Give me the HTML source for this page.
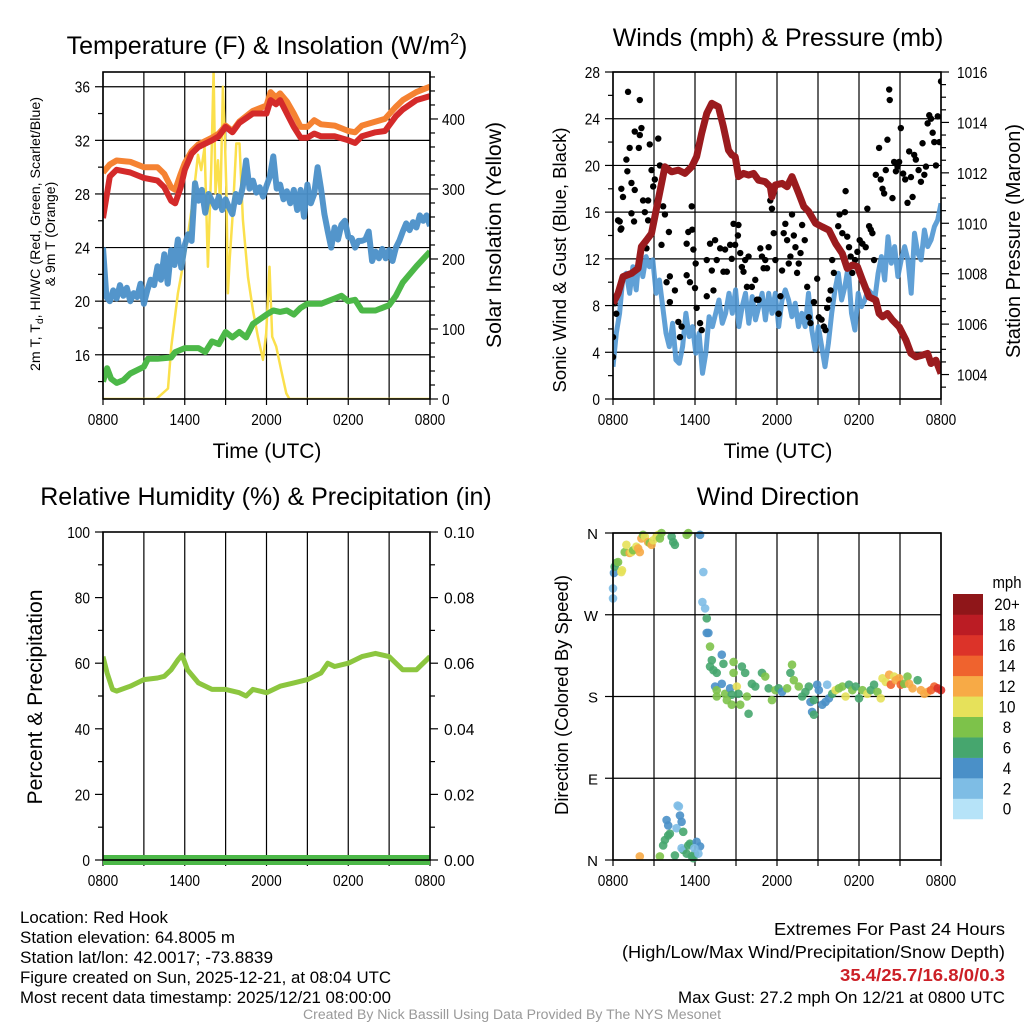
<!DOCTYPE html>
<html><head><meta charset="utf-8"><style>
html,body{margin:0;padding:0;background:#fff;}
svg{display:block;font-family:"Liberation Sans",sans-serif;}
</style></head><body>
<svg id="c" width="1024" height="1024" viewBox="0 0 1024 1024" xmlns="http://www.w3.org/2000/svg"></svg>
<script>
// ---------- Temperature panel data ----------
const redTimes=[0,0.5,1,2,3,4,4.5,5,5.3,5.7,6,6.5,7,8,8.5,9,9.5,10,11,12,12.3,12.7,13,13.5,14,14.5,15,15.5,16,17,18,18.5,19,20,20.7,21.5,22,23,24];
const redTemp=[26.2,29.3,29.8,29.6,29.2,29.0,28.5,27.5,27.3,28.5,29.8,31,31.5,32,32.3,33,32.6,33.3,34,34,35,34.7,35,34,33,32.2,32.2,32.5,32.3,32.3,32,31.8,32.3,32.6,32.7,33.8,34.3,35,35.3];
const orangeTemp=[29.6,30.2,30.5,30.4,30,30,29.5,28.5,28.3,29.5,30.3,31.2,31.7,32.2,32.5,33.1,32.7,33.4,34.2,34.6,35.6,35.2,35.5,34.9,34,33,33,33.5,33.2,33.1,32.7,32.6,33.1,33.4,33.6,34.5,35,35.6,36];
const blueTemp=[24,20.3,20.0,20.8,20.2,21.2,20.4,21.0,20.0,20.6,20.3,21.3,19.8,20.8,21.6,21.2,22.6,21.6,23.5,21.3,23.8,22.7,24.6,22.5,24.2,25.0,24.5,28.8,27.5,28.3,26.6,28.0,27.5,27.0,27.8,26.8,27.6,27.0,26.5,28,27.4,28.5,30.5,28.4,29,28.1,28.5,27.8,28.6,29.3,30.8,28.4,28.7,27.6,28.2,27.3,28.3,26.8,28.3,26.3,28.7,27.3,28.0,30.0,28.4,26.5,25.2,24.0,25.5,24.6,25.7,26.0,24.8,24.7,24.0,24.5,24.5,24.6,25.2,23.0,23.7,23.2,23.9,23.2,23.8,23.0,24.0,24.5,25.2,25.8,25.3,25.9,25.5,26.4,26.0,26.4,25.6];
const greenTimes=[0,0.3,0.6,1,1.5,2,3,3.3,4,5,5.3,6,7,7.5,8,8.5,9,9.5,10,10.5,11,12,12.5,13,13.5,14,14.5,15,16,17,17.5,18,18.5,19,20,21,21.5,22,23,24];
const greenTemp=[14,15,14.2,13.9,14.1,14.6,15.1,15.7,15.7,15.8,16.2,16.5,16.5,16.2,17,16.8,17.7,17.3,17.7,17.3,18.3,19,19.3,19.2,19.3,19.0,19.5,19.8,19.8,20.2,20.4,20,20.1,19.3,19.3,19.7,20.4,21.4,22.6,23.7];
const solarTimes=[0,3.91,4.77,5.01,5.50,6.11,6.60,6.97,7.21,7.46,7.70,7.95,8.12,8.26,8.44,8.61,8.80,8.92,9.05,9.17,9.29,9.54,9.78,10.02,10.27,10.64,11.0,11.37,11.74,11.98,12.22,12.42,12.71,13.08,13.45,13.69,24];
const solarVals=[0,0,15,75,151,217,284,349,327,360,189,332,470,294,341,274,446,389,303,151,198,270,365,365,256,174,127,89,56,94,189,89,75,41,8,0,0];
const tempTicks=[16,20,24,28,32,36];
const solarTicks=[0,100,200,300,400];
const timeLabels=["0800","1400","2000","0200","0800"];
// ---------- Wind panel data ----------
const windSpeed=[2.77,5.63,7.34,10.48,10.76,9.05,11.33,9.34,12.48,10.48,12.19,11.33,11.91,9.05,10.19,7.91,5.63,4.49,6.48,3.35,3.06,4.49,7.34,5.34,6.20,3.92,5.63,2.20,3.92,7.05,6.20,7.34,8.48,6.48,7.34,9.05,7.34,9.34,6.20,7.91,9.05,6.48,8.77,6.77,7.91,9.05,6.77,9.05,7.34,9.05,6.20,8.48,9.34,8.48,7.05,8.20,6.20,7.34,6.20,9.05,5.91,4.20,6.20,4.49,2.77,4.77,7.34,9.34,10.76,8.48,9.62,11.33,7.34,5.91,9.05,7.91,8.48,9.34,9.05,8.48,10.76,12.19,10.19,13.90,11.62,13.05,10.48,11.91,13.05,11.91,9.05,14.19,12.48,11.91,14.47,13.05,13.62,14.76,15.33,16.76];
const gustTimes=[0,0,0.12,0.24,0.37,0.56,0.49,0.61,0.61,0.73,0.98,1.05,1.10,1.22,1.35,1.35,1.54,1.59,1.59,1.89,1.96,1.96,2.08,2.20,2.33,2.45,2.57,2.57,2.69,2.82,2.94,3.06,3.31,3.43,3.55,3.67,3.80,3.92,4.09,4.16,4.16,4.53,4.78,4.90,5.02,5.39,5.39,5.51,5.63,5.76,5.80,5.88,6.0,6.05,6.12,6.37,6.49,6.86,6.86,7.10,7.23,7.35,7.47,7.59,7.84,8.08,8.20,8.33,8.57,8.69,8.82,8.94,9.14,9.18,9.31,9.43,9.55,9.67,9.80,9.92,10.16,10.41,10.53,10.65,10.78,10.90,11.02,11.14,11.27,11.39,11.51,11.63,11.76,11.88,12.12,12.25,12.37,12.49,12.61,12.74,12.86,12.98,13.10,13.23,13.35,13.47,13.59,13.72,13.84,14.03,14.21,14.33,14.45,14.70,14.94,15.06,15.26,15.43,15.55,15.67,15.80,15.92,16.04,16.16,16.34,16.48,16.58,16.78,16.97,17.02,17.14,17.27,17.39,17.51,17.71,17.88,18.05,18.25,18.49,18.61,18.74,18.86,18.98,19.10,19.23,19.47,19.59,19.72,19.84,19.96,20.08,20.21,20.25,20.45,20.57,20.70,20.82,20.94,21.06,21.23,21.38,21.55,21.67,21.80,21.92,22.04,22.16,22.36,22.53,22.65,22.78,22.90,23.02,23.14,23.27,23.39,23.51,23.63,23.76,23.88,24.0];
const gustVals=[3.6,5.3,8.2,7.3,15.3,14.5,15.2,18.0,14.6,17.3,20.5,19.5,26.3,21.5,18.5,15.9,15.2,17.9,22.9,21.5,25.6,22.6,23.2,17.0,16.0,12.9,17.0,15.3,21.8,19.6,18.2,18.8,22.3,20.0,13.2,16.5,15.8,10.0,14.3,10.5,8.3,9.3,6.6,5.3,6.2,13.3,10.6,14.3,10.0,16.5,14.5,12.8,9.5,11.6,7.8,6.5,5.9,11.9,8.8,13.3,11.0,9.3,13.6,11.9,12.9,10.9,12.8,10.9,13.2,12.0,15.0,13.2,14.0,14.9,12.5,11.3,10.9,11.9,9.6,12.2,9.6,10.2,8.5,8.5,12.9,12.2,11.2,11.9,11.2,13.0,17.0,16.3,14.2,11.9,7.3,8.8,11.0,14.2,15.0,13.6,11.6,12.2,15.8,14.0,13.0,10.8,11.6,12.5,14.9,13.6,9.6,7.0,6.5,8.3,10.3,7.0,6.8,6.2,5.9,7.8,8.5,9.3,11.9,10.8,13.2,14.8,15.8,14.2,16.0,17.8,13.9,13.0,12.2,10.8,11.9,12.6,13.6,13.3,13.0,16.3,14.8,14.5,14.2,11.9,19.2,21.5,18.8,18.0,17.6,19.6,22.2,26.5,25.6,17.2,20.3,19.5,19.9,20.3,23.2,19.3,18.8,16.8,21.2,19.0,17.3,20.9,20.5,19.6,18.6,21.9,19.2,19.9,23.6,24.3,24.0,22.8,22.0,20.0,24.2,22.0,27.2];
const presTimes=[0,0.37,0.73,1.35,1.84,2.08,2.45,2.82,3.31,3.80,4.29,4.78,5.27,5.76,6.12,6.49,6.86,7.23,7.71,8.08,8.45,8.69,8.94,9.18,9.55,9.92,10.29,10.65,11.14,11.51,11.63,11.88,12.37,12.74,13.10,13.59,13.96,14.33,14.82,15.31,15.80,16.29,16.78,17.14,17.51,17.88,18.25,18.74,19.23,19.47,19.72,20.08,20.45,20.94,21.43,21.80,22.16,22.65,23.02,23.27,23.63,24.0];
const presVals=[1006.82,1007.22,1007.88,1008.01,1008.21,1009.07,1009.33,1009.60,1010.92,1012.24,1012.04,1012.11,1011.98,1012.24,1012.64,1013.57,1014.36,1014.76,1014.62,1013.83,1012.90,1012.71,1012.64,1011.85,1011.98,1011.91,1011.98,1011.71,1011.65,1011.45,1011.05,1011.52,1011.58,1011.45,1011.85,1011.19,1010.66,1010.46,1010.0,1009.86,1009.73,1009.20,1008.80,1008.21,1008.34,1008.28,1007.75,1007.08,1006.95,1006.42,1006.29,1006.42,1006.16,1005.89,1005.37,1004.84,1004.70,1004.77,1004.84,1004.44,1004.57,1004.04];
const windTicks=[0,4,8,12,16,20,24,28];
const presTicks=[1004,1006,1008,1010,1012,1014,1016];
// ---------- RH panel data ----------
const rhTimes=[0,0.3,0.7,1,2,3,4,4.5,5,5.5,5.8,6.2,7,8,9,10,10.5,11,12,13,14,15,15.5,16,16.5,17,18,19,20,21,21.5,22,23,24];
const rhVals=[62,57,52,51.5,53,55,55.5,56,58,61,62.5,58,54,52,52,51,50,52,51,53,54,55,56,57,60,59,60,62,63,62,60,58,58,62];
const precipTimes=[0,24];
const precipVals=[0,0];
const rhTicks=[0,20,40,60,80,100];
const precipTicks=["0.00","0.02","0.04","0.06","0.08","0.10"];
// ---------- Wind direction data ----------
const dirTimes=[0,0,0.07,0.12,0.24,0.37,0.61,0.66,0.86,0.98,1.22,1.35,1.47,1.71,1.84,1.96,2.08,2.20,2.33,2.57,2.69,2.82,2.94,3.18,3.31,3.43,3.55,4.29,4.41,4.53,5.39,5.51,6.37,6.61,6.54,6.74,6.86,6.86,6.98,7.10,7.23,7.10,7.35,7.59,7.96,8.08,8.82,8.82,9.43,9.67,7.47,7.59,7.96,8.20,8.57,8.69,9.06,9.18,7.59,8.33,8.69,9.31,9.92,9.80,10.16,10.41,10.90,11.14,11.39,11.63,11.88,12.12,12.37,12.74,12.98,13.10,13.23,13.59,13.84,14.08,14.33,14.45,14.70,14.57,14.70,14.94,15.06,15.31,15.55,15.67,15.80,16.04,16.29,16.53,16.78,17.02,17.27,17.51,17.76,18.00,18.25,18.61,18.86,19.10,19.35,19.59,19.72,19.96,20.21,20.33,20.57,20.70,20.94,21.06,21.31,21.55,21.67,21.92,22.29,22.53,22.78,23.02,23.27,23.51,23.76,24.0,1.96,3.43,3.67,3.80,4.04,4.16,3.92,4.04,4.53,4.65,4.73,4.82,4.90,5.02,5.14,5.14,5.02,5.39,5.51,5.63,5.76,5.88,6.0,6.12,6.37,6.25,5.95];
const dirDegs=[299,288,316,323,327,328,317,319,339,347,338,339,341,345,343,339,354,358,356,350,349,347,352,356,358,354,360,356,350,347,358,360,358,317,284,277,266,250,250,235,220,213,209,206,226,216,218,206,213,206,191,187,194,183,189,182,191,183,180,176,171,171,161,180,194,191,206,202,189,176,187,189,185,189,206,215,198,191,180,185,191,174,176,163,160,193,187,171,174,193,178,183,187,189,191,180,193,187,191,178,187,183,187,193,185,178,200,196,204,193,202,198,200,193,194,202,194,189,198,187,183,185,187,191,189,187,4,4,16,22,27,29,44,38,5,35,60,59,49,42,31,11,13,7,16,18,4,2,7,20,15,7,13];
const dirSpeeds=[3,3,5,7,7,9,11,11,9,11,13,11,9,11,13,13,13,9,11,13,9,13,11,11,11,9,9,7,7,7,9,9,5,3,3,3,7,5,5,9,7,7,7,7,5,7,9,9,7,7,5,9,5,9,5,7,11,7,9,9,9,9,7,9,7,7,7,9,7,9,9,7,5,9,7,9,9,9,7,7,7,5,7,5,7,5,5,5,5,3,5,7,11,9,9,11,7,9,7,7,9,11,7,7,9,11,11,11,13,15,11,13,13,15,9,9,13,13,7,13,13,13,15,15,17,17,13,9,7,7,7,7,5,5,7,3,3,3,5,5,7,7,3,7,7,7,7,7,7,5,5,3,3];
const dirTicks=["N","E","S","W","N"];
const cbarLabels=["0","2","4","6","8","10","12","14","16","18","20+"];
const cbarColors=["#b6e3f8","#7ebde5","#4a90c8","#46a66e","#7dc24a","#e6e15a","#f7aa46","#ef632e","#dc3329","#bb1c24","#8f1619"];

const NS="http://www.w3.org/2000/svg";
const svg=document.getElementById('c');
function mk(tag,attrs,parent){const e=document.createElementNS(NS,tag);for(const k in attrs)e.setAttribute(k,attrs[k]);(parent||svg).appendChild(e);return e;}
function txt(s,x,y,size,anchor,parent){const t=mk('text',{x:x,y:y,'font-size':size,'text-anchor':anchor||'middle'},parent);t.textContent=s;return t;}
function fit(t,w){t.setAttribute('textLength',w);t.setAttribute('lengthAdjust','spacingAndGlyphs');return t;}
const P={t:{x0:103,x1:430,y0:72,y1:399},w:{x0:613,x1:941,y0:72,y1:399},r:{x0:103,x1:430,y0:532,y1:860},d:{x0:613,x1:941,y0:533,y1:860}};
function xs(p){return h=>p.x0+h/24*(p.x1-p.x0);}
function ys(p,lo,hi){return v=>p.y1-(v-lo)/(hi-lo)*(p.y1-p.y0);}
function defsClip(id,p){let d=svg.querySelector('defs')||mk('defs',{});const c=mk('clipPath',{id:id},d);mk('rect',{x:p.x0,y:p.y0,width:p.x1-p.x0,height:p.y1-p.y0},c);}
function tl(s,x,y,anchor,g){const t=txt(s,x,y,16,anchor,g);return fit(t,s.length*7.6);}
function grid(p,g,hy){
  for(let i=0;i<=8;i++){const x=p.x0+i*(p.x1-p.x0)/8;mk('line',{x1:x,x2:x,y1:p.y0,y2:p.y1,stroke:'#000','stroke-width':1.2},g);
    mk('line',{x1:x,x2:x,y1:p.y1,y2:p.y1+6,stroke:'#000','stroke-width':1.2},g);}
  hy.forEach(y=>mk('line',{x1:p.x0,x2:p.x1,y1:y,y2:y,stroke:'#000','stroke-width':1.2},g));
  timeLabels.forEach((l,i)=>tl(l,p.x0+i*(p.x1-p.x0)/4,p.y1+26,'middle',g));
}
function frame(p,g){mk('rect',{x:p.x0,y:p.y0,width:p.x1-p.x0,height:p.y1-p.y0,fill:'none',stroke:'#000','stroke-width':1.6},g);}
function path(pts){return pts.map((p,i)=>(i?'L':'M')+p[0].toFixed(1)+','+p[1].toFixed(1)).join('');}
function rot(s,x,y,size,len,g){const t=mk('text',{transform:'translate('+x+','+y+') rotate(-90)','font-size':size,'text-anchor':'middle'},g);t.textContent=s;if(len)fit(t,len);return t;}

// ===== Temperature panel =====
(function(){
const p=P.t;const g=mk('g',{});
defsClip('clipT',p);
const X=xs(p),Y=ys(p,12.7,37.1),S=ys(p,0,467.1);
grid(p,g,tempTicks.map(Y));
for(let v=14;v<=36;v+=2){const y=Y(v);mk('line',{x1:p.x0-(v%4==0?8:5),x2:p.x0,y1:y,y2:y,stroke:'#000','stroke-width':1.2},g);}
tempTicks.forEach(v=>tl(String(v),p.x0-13,Y(v)+6,'end',g));
for(let v=0;v<=460;v+=20){const y=S(v);mk('line',{x1:p.x1,x2:p.x1+(v%100==0?8:5),y1:y,y2:y,stroke:'#000','stroke-width':1.2},g);}
solarTicks.forEach(v=>tl(String(v),p.x1+12,S(v)+6,'start',g));
const c=mk('g',{'clip-path':'url(#clipT)'},g);
const sol=mk('path',{d:path(solarTimes.map((t,i)=>[X(t),S(solarVals[i])])),fill:'none',stroke:'#fbe04c','stroke-width':2.5,'stroke-linejoin':'round'},c);

const gr=mk('path',{d:path(greenTimes.map((t,i)=>[X(t),Y(greenTemp[i])])),fill:'none',stroke:'#4cb848','stroke-width':6,'stroke-linejoin':'round'},c);

const bl=mk('path',{d:path(blueTemp.map((v,i)=>[X(i*24/(blueTemp.length-1)),Y(v)])),fill:'none',stroke:'#4a8fc8','stroke-width':6,'stroke-linejoin':'round','stroke-opacity':0.95},c);

const or=mk('path',{d:path(redTimes.map((t,i)=>[X(t),Y(orangeTemp[i])])),fill:'none',stroke:'#f58232','stroke-width':6,'stroke-linejoin':'round'},c);

const rd=mk('path',{d:path(redTimes.map((t,i)=>[X(t),Y(redTemp[i])])),fill:'none',stroke:'#d42a2a','stroke-width':6,'stroke-linejoin':'round'},c);

frame(p,g);
const tt=txt('',267,54,25,'middle',g);tt.innerHTML='Temperature (F) &amp; Insolation (W/m<tspan dy="-10" font-size="16">2</tspan><tspan dy="10">)</tspan>';

const xl=txt('Time (UTC)',267,458,21,'middle',g);
const yl=mk('text',{transform:'translate(40,234) rotate(-90)','font-size':14,'text-anchor':'middle'},g);
yl.innerHTML='2m T, T<tspan dy="3" font-size="10">d</tspan><tspan dy="-3">, HI/WC (Red, Green, Scarlet/Blue)</tspan>';
fit(yl,274);

rot('& 9m T (Orange)',55,234,14,null,g);
const yr=rot('Solar Insolation (Yellow)',501,235,21,226,g);

})();

// ===== Wind panel =====
(function(){
const p=P.w;const g=mk('g',{});
defsClip('clipW',p);
const X=xs(p),Y=ys(p,0,28),PR=ys(p,1003.03,1016);
grid(p,g,windTicks.map(Y));
for(let v=0;v<=28;v+=2){const y=Y(v);mk('line',{x1:p.x0-(v%4==0?8:5),x2:p.x0,y1:y,y2:y,stroke:'#000','stroke-width':1.2},g);}
windTicks.forEach(v=>tl(String(v),p.x0-13,Y(v)+6,'end',g));
for(let v=1003.5;v<=1016;v+=0.5){const y=PR(v);mk('line',{x1:p.x1,x2:p.x1+(v%2==0?8:5),y1:y,y2:y,stroke:'#000','stroke-width':1.2},g);}
presTicks.forEach(v=>tl(String(v),p.x1+16,PR(v)+6,'start',g));
const c=mk('g',{'clip-path':'url(#clipW)'},g);
const bl=mk('path',{d:path(windSpeed.map((v,i)=>[X(i*24/(windSpeed.length-1)),Y(v)])),fill:'none',stroke:'#4f96d2','stroke-width':5,'stroke-linejoin':'round','stroke-opacity':0.9},c);

const gg=mk('g',{},c);
gustTimes.forEach((t,i)=>{const d=mk('circle',{cx:X(t),cy:Y(gustVals[i]),r:3.2,fill:'#000'},gg);
});
const pr=mk('path',{d:path(presTimes.map((t,i)=>[X(t),PR(presVals[i])])),fill:'none',stroke:'#9b1b1e','stroke-width':7,'stroke-linejoin':'round'},c);

frame(p,g);
const tt=txt('Winds (mph) & Pressure (mb)',778,46,25,'middle',g);
const xl=txt('Time (UTC)',778,458,21,'middle',g);
const yl=rot('Sonic Wind & Gust (Blue, Black)',566,260,18.5,265,g);

const yr=rot('Station Pressure (Maroon)',1020,241,20,234,g);

})();

// ===== RH panel =====
(function(){
const p=P.r;const g=mk('g',{});
defsClip('clipR',p);
const X=xs(p),Y=ys(p,0,100),PY=ys(p,0,0.10);
for(let i=0;i<=8;i++){const x=p.x0+i*(p.x1-p.x0)/8;mk('line',{x1:x,x2:x,y1:p.y0,y2:p.y1,stroke:'#000','stroke-width':1.2},g);mk('line',{x1:x,x2:x,y1:p.y1,y2:p.y1+6,stroke:'#000','stroke-width':1.2},g);}
timeLabels.forEach((l,i)=>tl(l,p.x0+i*(p.x1-p.x0)/4,p.y1+26,'middle',g));
for(let v=0;v<=100;v+=10){const y=Y(v);mk('line',{x1:p.x0-(v%20==0?8:5),x2:p.x0,y1:y,y2:y,stroke:'#000','stroke-width':1.2},g);mk('line',{x1:p.x1,x2:p.x1+(v%20==0?8:5),y1:y,y2:y,stroke:'#000','stroke-width':1.2},g);}
rhTicks.forEach(v=>tl(String(v),p.x0-13,Y(v)+6,'end',g));
precipTicks.forEach(v=>tl(v,p.x1+14,PY(parseFloat(v))+6,'start',g));
const c=mk('g',{'clip-path':'url(#clipR)'},g);
const rh=mk('path',{d:path(rhTimes.map((t,i)=>[X(t),Y(rhVals[i])])),fill:'none',stroke:'#8cc63f','stroke-width':5,'stroke-linejoin':'round'},c);

const pc=mk('path',{d:path(precipTimes.map((t,i)=>[X(t),PY(precipVals[i])])),fill:'none',stroke:'#4cb848','stroke-width':10},g);

frame(p,g);
const tt=txt('Relative Humidity (%) & Precipitation (in)',266,505,25,'middle',g);
const yl=rot('Percent & Precipitation',42,697,21,215,g);

})();

// ===== Wind direction panel =====
(function(){
const p=P.d;const g=mk('g',{});
defsClip('clipD',p);
const X=xs(p),Y=ys(p,0,360);
grid(p,g,[0,90,180,270,360].map(Y));
dirTicks.forEach((l,i)=>{const y=Y(i*90);mk('line',{x1:p.x0-8,x2:p.x0,y1:y,y2:y,stroke:'#000','stroke-width':1.2},g);txt(l,p.x0-15,y+6,15,'end',g);});
const c=mk('g',{},g);
function col(s){return cbarColors[Math.min(10,Math.floor(s/2))];}
dirTimes.forEach((t,i)=>{const d=mk('circle',{cx:X(t),cy:Y(dirDegs[i]),r:4.3,fill:col(dirSpeeds[i]),'fill-opacity':0.9},c);
});
frame(p,g);
const tt=txt('Wind Direction',778,505,25,'middle',g);
const yl=rot('Direction (Colored By Speed)',568,695,18.5,240,g);

const cb=mk('g',{},g);
const top=594,bh=20.45;
cbarColors.forEach((cl,i)=>{const y=top+(10-i)*bh;mk('rect',{x:953,y:y,width:30,height:bh+0.3,fill:cl},cb);const t=txt(cbarLabels[i],1007,y+bh/2+6,17,'middle',cb);fit(t,cbarLabels[i].length*8.5);});
fit(txt('mph',1007,588,17,'middle',cb),29);
})();

// ===== Footer text =====
(function(){
const g=mk('g',{});
const L=[["Location: Red Hook",148],["Station elevation: 64.8005 m",215],["Station lat/lon: 42.0017; -73.8839",253],["Figure created on Sun, 2025-12-21, at 08:04 UTC",371],["Most recent data timestamp: 2025/12/21 08:00:00",371]];
L.forEach((s,i)=>fit(txt(s[0],20,923+i*20,17,'start',g),s[1]));
const r=mk('g',{});
fit(txt('Extremes For Past 24 Hours',1005,935,17.5,'end',r),231);
fit(txt('(High/Low/Max Wind/Precipitation/Snow Depth)',1005,958,17.5,'end',r),383);
const red=txt('35.4/25.7/16.8/0/0.3',1005,981,17.5,'end',r);red.setAttribute('fill','#cc2027');red.setAttribute('font-weight','bold');fit(red,165);
fit(txt('Max Gust: 27.2 mph On 12/21 at 0800 UTC',1005,1003,17,'end',r),327);
const cr=txt('Created By Nick Bassill Using Data Provided By The NYS Mesonet',512,1019,13.5,'middle',svg);cr.setAttribute('fill','#999');fit(cr,418);

})();
</script>
</body></html>
